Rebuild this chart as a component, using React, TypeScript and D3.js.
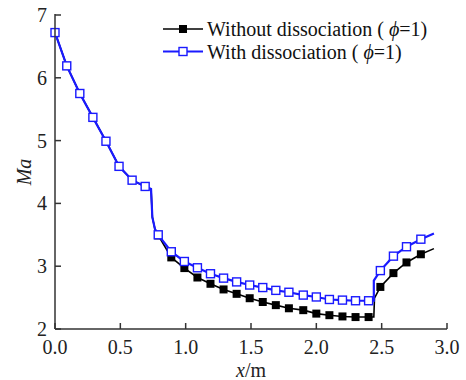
import React from "react";
import * as d3 from "d3";

const markerX = [0, 0.09, 0.19, 0.29, 0.39, 0.49, 0.59, 0.69, 0.79, 0.89, 0.99, 1.09, 1.19, 1.29, 1.39, 1.49, 1.59, 1.69, 1.79, 1.9, 2.0, 2.1, 2.2, 2.3, 2.4, 2.49, 2.59, 2.69, 2.8];
const withMa = [6.72, 6.19, 5.75, 5.37, 4.99, 4.59, 4.37, 4.27, 3.5, 3.23, 3.075, 2.975, 2.88, 2.81, 2.75, 2.7, 2.66, 2.615, 2.585, 2.54, 2.51, 2.47, 2.46, 2.45, 2.45, 2.93, 3.16, 3.31, 3.43];
const withoutMa = [6.72, 6.19, 5.75, 5.37, 4.99, 4.59, 4.37, 4.27, 3.49, 3.14, 2.97, 2.82, 2.72, 2.63, 2.56, 2.49, 2.43, 2.38, 2.33, 2.3, 2.245, 2.22, 2.2, 2.19, 2.19, 2.67, 2.89, 3.06, 3.19];

// extra line knots (no markers)
const withExtraX = [0.735, 0.745, 0.765, 2.44, 2.44, 2.9];
const withExtraMa = [4.23, 3.78, 3.59, 2.45, 2.77, 3.52];
const withoutExtraX = [0.735, 0.745, 0.765, 2.44, 2.445, 2.9];
const withoutExtraMa = [4.23, 3.78, 3.59, 2.19, 2.49, 3.28];

const xTicks = [0, 0.5, 1.0, 1.5, 2.0, 2.5, 3.0];
const yTicks = [2, 3, 4, 5, 6, 7];

const legendLabels = ["Without dissociation ( ", "With dissociation ( "];

const W = 466, H = 380;
const L = 55, R = 447, T = 15, B = 329;
const FONT = "Liberation Serif, Times New Roman, Tinos, Times, DejaVu Serif, serif";
const fs = { fontFamily: FONT };

type P = [number, number];

function merge(mx: number[], my: number[], ex: number[], ey: number[]): P[] {
  const pts: P[] = mx.map((x, i) => [x, my[i]] as P).concat(ex.map((x, i) => [x, ey[i]] as P));
  return pts.sort((a, b) => a[0] - b[0]);
}

export default function App() {
  const x = d3.scaleLinear().domain([0, 3]).range([L, R]);
  const y = d3.scaleLinear().domain([2, 7]).range([B, T]);
  const line = d3.line<P>().x((d) => x(d[0])).y((d) => y(d[1])).curve(d3.curveLinear);

  const withLine = merge(markerX, withMa, withExtraX, withExtraMa);
  const withoutLine = merge(markerX, withoutMa, withoutExtraX, withoutExtraMa);
  const ms = 8;
  const blue = "#1a1aff";

  return (
    <svg width={W} height={H} style={{ position: "absolute", left: 0, top: 0, background: "#fff" }}>
      <rect x={0} y={0} width={W} height={H} fill="#fff" />
      {/* black series */}
      <path d={line(withoutLine) || ""} fill="none" stroke="#000" strokeWidth={1.6} />
      {markerX.map((xv, i) => (
        <rect key={"k" + i} x={x(xv) - ms / 2} y={y(withoutMa[i]) - ms / 2} width={ms} height={ms} fill="#000" />
      ))}
      {/* blue series */}
      <path d={line(withLine) || ""} fill="none" stroke={blue} strokeWidth={2.2} />
      {markerX.map((xv, i) => (
        <rect key={"b" + i} x={x(xv) - ms / 2} y={y(withMa[i]) - ms / 2} width={ms} height={ms} fill="#fff" stroke={blue} strokeWidth={1.4} />
      ))}
      {/* axes */}
      <line x1={L} x2={L} y1={T - 1} y2={B} stroke="#333" strokeWidth={1.5} />
      <line x1={L} x2={R} y1={B} y2={B} stroke="#333" strokeWidth={1.5} />
      {yTicks.map((t) => (
        <g key={"yt" + t}>
          <line x1={L} x2={L + 6} y1={y(t)} y2={y(t)} stroke="#333" strokeWidth={1.5} />
          <text x={L - 8} y={y(t)} textAnchor="end" dominantBaseline="central" fontSize={20} fill="#222" style={fs}>{t}</text>
        </g>
      ))}
      {xTicks.map((t) => (
        <g key={"xt" + t}>
          <line x1={x(t)} x2={x(t)} y1={B} y2={B - 6} stroke="#333" strokeWidth={1.5} />
          <text x={x(t)} y={354} textAnchor="middle" fontSize={20} fill="#222" style={fs}>{t.toFixed(1)}</text>
        </g>
      ))}
      <text x={(L + R) / 2} y={377} textAnchor="middle" fontSize={20} fill="#222" style={fs}>
        <tspan fontStyle="italic">x</tspan>/m
      </text>
      <text transform={`translate(31, ${(T + B) / 2}) rotate(-90)`} textAnchor="middle" fontSize={20} fill="#222" fontStyle="italic" style={fs}>Ma</text>
      {/* legend */}
      {legendLabels.map((lab, i) => {
        const ly = 29 + i * 22.5;
        const isBlue = i === 1;
        return (
          <g key={"lg" + i}>
            <line x1={163} x2={203} y1={ly} y2={ly} stroke={isBlue ? blue : "#000"} strokeWidth={isBlue ? 2.2 : 1.6} />
            <rect x={183 - ms / 2} y={ly - ms / 2} width={ms} height={ms} fill={isBlue ? "#fff" : "#000"} stroke={isBlue ? blue : "none"} strokeWidth={1.4} />
            <text x={207} y={ly} dominantBaseline="central" fontSize={20} fill="#111" style={fs}>
              {lab}<tspan fontStyle="italic">ϕ</tspan>=1)
            </text>
          </g>
        );
      })}
    </svg>
  );
}
